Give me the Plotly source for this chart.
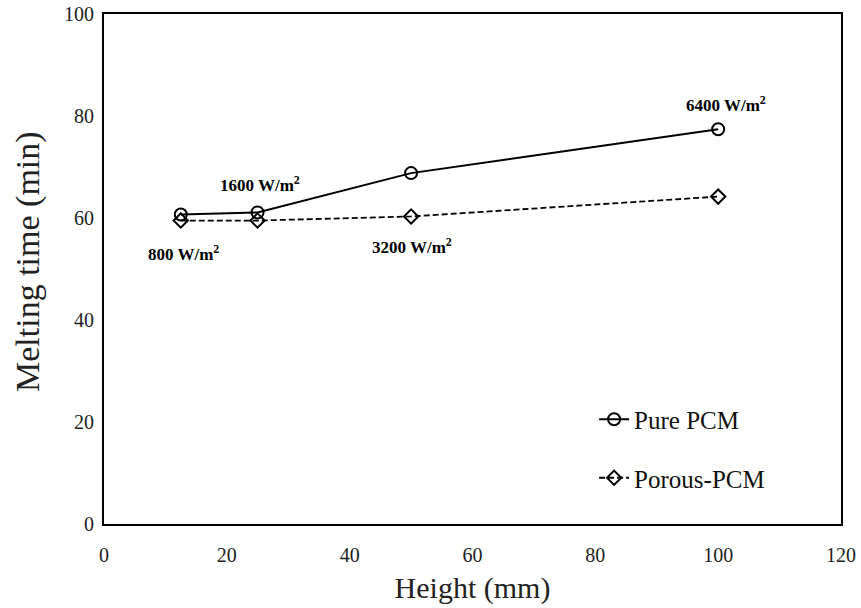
import plotly.graph_objects as go

heights = [12.5, 25, 50, 100]
pure_pcm = [60.7, 61.1, 68.8, 77.4]
porous_pcm = [59.5, 59.5, 60.3, 64.2]
flux_labels = ["800 W/m<sup>2</sup>", "1600 W/m<sup>2</sup>", "3200 W/m<sup>2</sup>", "6400 W/m<sup>2</sup>"]
label_x = [12.9, 25.4, 50.2, 101.3]
label_y = [53.1, 66.7, 54.5, 82.4]

FONT = "Liberation Serif"

fig = go.Figure()
fig.add_trace(go.Scatter(
    x=heights, y=pure_pcm, mode="lines+markers", name="Pure PCM",
    line=dict(color="black", width=2),
    marker=dict(symbol="circle-open", size=12, color="black", line=dict(width=2)),
    legendgroup="a",
))
fig.add_trace(go.Scatter(
    x=heights, y=porous_pcm, mode="lines+markers", name="Porous-PCM",
    line=dict(color="black", width=1.8, dash="6px,3px"),
    marker=dict(symbol="diamond-open", size=11, color="black", line=dict(width=2)),
    legendgroup="b",
))

for lx, ly, t in zip(label_x, label_y, flux_labels):
    fig.add_annotation(x=lx, y=ly, text="<b>" + t + "</b>", showarrow=False,
                       font=dict(family=FONT, size=17, color="black"))

# y-axis title (placed as rotated text to match reference offset)
fig.add_annotation(xref="paper", yref="paper", x=0, y=0.5137, xshift=-76,
                   xanchor="center", yanchor="middle", textangle=-90,
                   text="Melting time (min)", showarrow=False,
                   font=dict(family=FONT, size=34, color="#222"))

fig.update_layout(
    width=861, height=608,
    margin=dict(l=104, r=20, t=14, b=84),
    paper_bgcolor="white", plot_bgcolor="white",
    font=dict(family=FONT, color="black"),
    showlegend=True,
    legend=dict(x=0.665, y=0.25, xanchor="left", yanchor="top",
                font=dict(family=FONT, size=25, color="#111"),
                bgcolor="rgba(0,0,0,0)", tracegroupgap=23, traceorder="grouped",
                itemwidth=30),
    xaxis=dict(range=[0, 120], dtick=20, showgrid=False, zeroline=False,
               showline=True, linecolor="black", linewidth=2, mirror=True,
               ticks="", ticklabelstandoff=12, automargin=False,
               tickfont=dict(family=FONT, size=20, color="#222"),
               title=dict(text="Height (mm)", font=dict(family=FONT, size=30, color="#222"), standoff=12)),
    yaxis=dict(range=[0, 100], dtick=20, showgrid=False, zeroline=False,
               showline=True, linecolor="black", linewidth=2, mirror=True,
               ticks="", ticklabelstandoff=4, automargin=False,
               tickfont=dict(family=FONT, size=20, color="#222")),
)

fig.write_html("out.html")
